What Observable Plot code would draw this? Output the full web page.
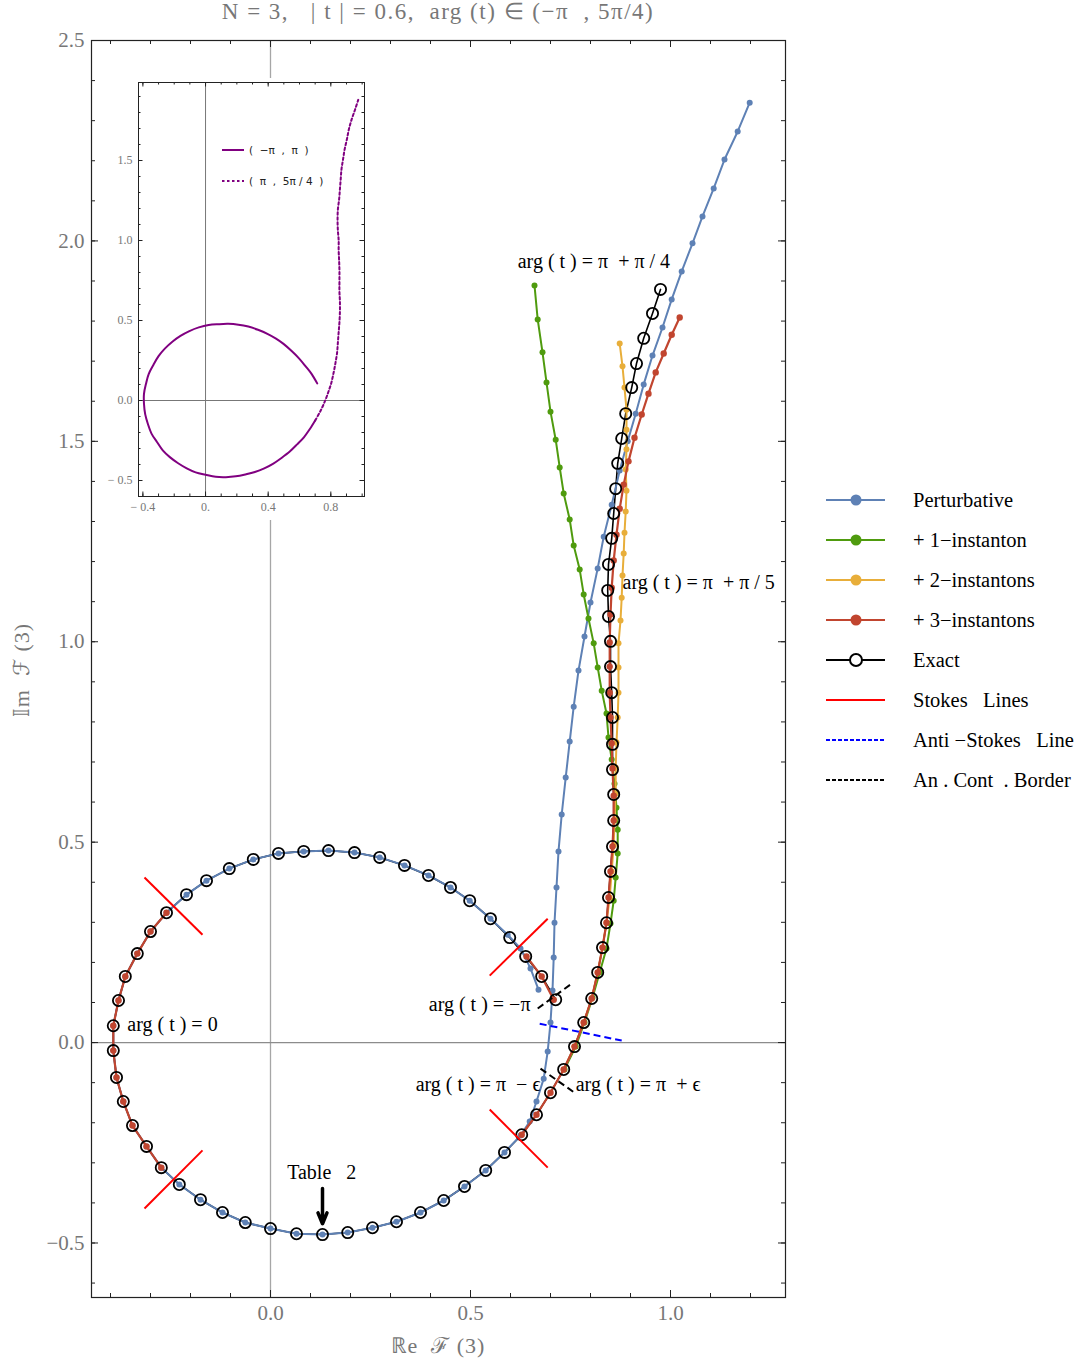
<!DOCTYPE html>
<html><head><meta charset="utf-8">
<script src="https://cdn.jsdelivr.net/npm/d3@7"></script>
<script src="https://cdn.jsdelivr.net/npm/@observablehq/plot@0.6"></script>
<style>
body{margin:0;background:#fff;}
#wrap{position:relative;width:1089px;height:1365px;overflow:hidden;font-family:"Liberation Serif",serif;}
.abs{position:absolute;white-space:pre;}
svg text{white-space:pre;}
</style></head><body><div id="wrap"></div>
<script>
// ---------- DATA ----------
// Exact: loop, arg(t) from -pi to pi-eps
const exactLoop = [[0.713,0.107],[0.678,0.165],[0.638,0.215],[0.598,0.262],[0.550,0.309],[0.498,0.354],[0.450,0.387],[0.395,0.417],[0.335,0.442],[0.273,0.462],[0.210,0.474],[0.145,0.479],[0.083,0.477],[0.020,0.472],[-0.043,0.457],[-0.103,0.434],[-0.160,0.404],[-0.210,0.369],[-0.260,0.324],[-0.300,0.277],[-0.333,0.222],[-0.363,0.165],[-0.380,0.105],[-0.393,0.042],[-0.393,-0.020],[-0.385,-0.087],[-0.368,-0.147],[-0.345,-0.207],[-0.310,-0.259],[-0.273,-0.312],[-0.228,-0.354],[-0.175,-0.392],[-0.120,-0.424],[-0.063,-0.449],[0.000,-0.464],[0.065,-0.477],[0.130,-0.479],[0.193,-0.474],[0.255,-0.462],[0.315,-0.447],[0.375,-0.424],[0.433,-0.394],[0.485,-0.359],[0.538,-0.319],[0.585,-0.274],[0.628,-0.230],[0.665,-0.180],[0.700,-0.125]];
// Exact: branch, arg(t) from pi+eps to 5pi/4
const exactBranch = [[0.733,-0.067],[0.760,-0.010],[0.783,0.050],[0.803,0.110],[0.818,0.175],[0.830,0.237],[0.840,0.299],[0.845,0.362],[0.850,0.427],[0.855,0.489],[0.858,0.554],[0.858,0.619],[0.855,0.681],[0.855,0.744],[0.855,0.811],[0.853,0.873],[0.850,0.938],[0.850,1.001],[0.845,1.063],[0.843,1.128],[0.845,1.193],[0.853,1.258],[0.858,1.320],[0.863,1.382],[0.868,1.445],[0.878,1.507],[0.888,1.569],[0.903,1.634],[0.915,1.694],[0.933,1.757],[0.955,1.819],[0.975,1.879]];
// Perturbative
const pertLoop = [[0.670,0.132],[0.650,0.185],[0.625,0.235],[0.593,0.269],[0.550,0.309],[0.498,0.354],[0.450,0.387],[0.395,0.417],[0.335,0.442],[0.273,0.462],[0.210,0.474],[0.145,0.479],[0.083,0.477],[0.020,0.472],[-0.043,0.457],[-0.103,0.434],[-0.160,0.404],[-0.210,0.369],[-0.260,0.324],[-0.300,0.277],[-0.333,0.222],[-0.363,0.165],[-0.380,0.105],[-0.393,0.042],[-0.393,-0.020],[-0.385,-0.087],[-0.368,-0.147],[-0.345,-0.207],[-0.310,-0.259],[-0.273,-0.312],[-0.228,-0.354],[-0.175,-0.392],[-0.120,-0.424],[-0.063,-0.449],[0.000,-0.464],[0.065,-0.477],[0.130,-0.479],[0.193,-0.474],[0.255,-0.462],[0.315,-0.447],[0.375,-0.424],[0.433,-0.394],[0.485,-0.359],[0.538,-0.319],[0.585,-0.274],[0.625,-0.232],[0.648,-0.197],[0.665,-0.147]];
const pertBranch = [[0.683,-0.090],[0.693,-0.022],[0.700,0.050],[0.705,0.130],[0.708,0.212],[0.710,0.299],[0.715,0.387],[0.720,0.477],[0.728,0.569],[0.738,0.661],[0.748,0.751],[0.758,0.838],[0.770,0.928],[0.785,1.013],[0.800,1.098],[0.818,1.183],[0.833,1.262],[0.853,1.342],[0.873,1.427],[0.893,1.500],[0.913,1.569],[0.933,1.642],[0.955,1.714],[0.980,1.784],[1.003,1.854],[1.028,1.924],[1.055,1.994],[1.080,2.061],[1.108,2.131],[1.135,2.203],[1.168,2.273],[1.198,2.345]];
// + 1-instanton
const inst1 = [[0.735,-0.067],[0.763,-0.010],[0.785,0.050],[0.805,0.112],[0.823,0.175],[0.840,0.235],[0.850,0.297],[0.858,0.354],[0.863,0.412],[0.868,0.472],[0.868,0.531],[0.865,0.586],[0.860,0.646],[0.853,0.706],[0.845,0.761],[0.840,0.821],[0.828,0.878],[0.818,0.936],[0.808,0.996],[0.795,1.058],[0.783,1.118],[0.773,1.180],[0.758,1.240],[0.748,1.305],[0.733,1.370],[0.723,1.435],[0.713,1.504],[0.700,1.574],[0.690,1.647],[0.680,1.722],[0.668,1.804],[0.660,1.889]];
// + 2-instantons
const inst2 = [[0.733,-0.067],[0.760,-0.010],[0.783,0.050],[0.803,0.110],[0.818,0.175],[0.830,0.237],[0.840,0.299],[0.848,0.362],[0.853,0.427],[0.858,0.492],[0.860,0.556],[0.863,0.621],[0.863,0.686],[0.865,0.749],[0.868,0.811],[0.870,0.873],[0.870,0.936],[0.870,0.996],[0.875,1.053],[0.878,1.110],[0.880,1.165],[0.883,1.220],[0.885,1.272],[0.888,1.325],[0.890,1.377],[0.888,1.430],[0.890,1.480],[0.890,1.529],[0.890,1.579],[0.885,1.634],[0.880,1.687],[0.873,1.744]];
// + 3-instantons (three pieces)
const inst3Left = [[-0.260,0.324],[-0.300,0.277],[-0.333,0.222],[-0.363,0.165],[-0.380,0.105],[-0.393,0.042],[-0.393,-0.020],[-0.385,-0.087],[-0.368,-0.147],[-0.345,-0.207],[-0.310,-0.259],[-0.273,-0.312]];
const inst3Top = [[0.640,0.215],[0.678,0.165],[0.708,0.107]];
const inst3Main = [[0.628,-0.230],[0.665,-0.180],[0.700,-0.125],[0.733,-0.067],[0.760,-0.010],[0.783,0.050],[0.803,0.110],[0.818,0.175],[0.830,0.237],[0.840,0.299],[0.845,0.362],[0.850,0.427],[0.855,0.489],[0.858,0.554],[0.858,0.616],[0.855,0.684],[0.853,0.746],[0.850,0.811],[0.848,0.873],[0.848,0.938],[0.848,0.998],[0.850,1.068],[0.853,1.135],[0.858,1.203],[0.865,1.267],[0.873,1.332],[0.883,1.392],[0.895,1.450],[0.910,1.509],[0.928,1.567],[0.945,1.619],[0.963,1.672],[0.983,1.719],[1.003,1.766],[1.023,1.809]];
// Stokes lines, anti-Stokes line, analytic continuation borders: [x1,y1,x2,y2]
const stokesLines = [[-0.315,0.412,-0.170,0.269],[-0.315,-0.414,-0.170,-0.269],[0.548,0.167,0.693,0.309],[0.548,-0.167,0.693,-0.312]];
const antiStokesLine = [[0.673,0.047,0.878,0.005]];
const contBorders = [[0.668,0.085,0.753,0.147],[0.675,-0.065,0.763,-0.127]];
// annotations
const notesStart = [{x:0.618,y:1.949,t:"arg ( t ) = π  + π / 4"},{x:0.880,y:1.148,t:"arg ( t ) = π  + π / 5"},{x:-0.358,y:0.045,t:"arg ( t ) = 0"},{x:0.763,y:-0.105,t:"arg ( t ) = π  + ϵ"}];
const notesEnd = [{x:0.650,y:0.095,t:"arg ( t ) = −π"},{x:0.675,y:-0.105,t:"arg ( t ) = π  − ϵ"}];
const notesMiddle = [{x:0.128,y:-0.324,t:"Table   2"}];
const tableArrow = [{x1:0.130,y1:-0.364,x2:0.130,y2:-0.452}];
// ticks
const xMajor = [0, 0.5, 1];
const yMajor = [-0.5, 0, 0.5, 1, 1.5, 2, 2.5];
const xMinor = d3.range(-4, 13).map(i => i / 10);
const yMinor = d3.range(-6, 26).map(i => i / 10);
// inset ticks
const insetXMajor = [-0.4, 0, 0.4, 0.8];
const insetXLabels = ["− 0.4", "0.", "0.4", "0.8"];
const insetYMajor = [-0.5, 0, 0.5, 1, 1.5];
const insetYLabels = ["− 0.5", "0.0", "0.5", "1.0", "1.5"];
const insetXMinor = d3.range(-4, 11).map(i => i / 10);
const insetYMinor = d3.range(-6, 20).map(i => i / 10);
// legend
const legendLabels = ["Perturbative", "+ 1−instanton", "+ 2−instantons", "+ 3−instantons", "Exact", "Stokes   Lines", "Anti −Stokes   Line", "An . Cont  . Border"];
const insetLegendLabels = ["(  −π  ,  π  )", "(  π  ,  5π / 4  )"];

// ---------- RENDER ----------
const BLUE = "#5e81b5", GREEN = "#4f9b0e", YELLOW = "#e8ae3a", RED = "#c1452f", PURPLE = "#800080";
const W = 1089, H = 1365, mL = 91, mR = 304, mT = 40, mB = 68;
const FW = W - mL - mR, FH = H - mT - mB;
const X = d => d[0], Y = d => d[1];
const exactAll = exactLoop.concat(exactBranch);
const pertAll = pertLoop.concat(pertBranch);
const inst3 = [
  ...inst3Left.map(d => ({x: d[0], y: d[1], g: "a"})),
  ...inst3Top.map(d => ({x: d[0], y: d[1], g: "b"})),
  ...inst3Main.map(d => ({x: d[0], y: d[1], g: "c"}))
];
const linkOpts = {x1: d => d[0], y1: d => d[1], x2: d => d[2], y2: d => d[3]};
const fmt = d3.format(".1f");
const tickCol = "#222";

function frameTicks(xMin, yMin, xMaj, yMaj, fw, fh, lMin, lMaj) {
  return [
    Plot.tickX(xMin, {x: d => d, stroke: tickCol, insetTop: fh - lMin}),
    Plot.tickX(xMin, {x: d => d, stroke: tickCol, insetBottom: fh - lMin}),
    Plot.tickX(xMaj, {x: d => d, stroke: tickCol, insetTop: fh - lMaj}),
    Plot.tickX(xMaj, {x: d => d, stroke: tickCol, insetBottom: fh - lMaj}),
    Plot.tickY(yMin, {y: d => d, stroke: tickCol, insetRight: fw - lMin}),
    Plot.tickY(yMin, {y: d => d, stroke: tickCol, insetLeft: fw - lMin}),
    Plot.tickY(yMaj, {y: d => d, stroke: tickCol, insetRight: fw - lMaj}),
    Plot.tickY(yMaj, {y: d => d, stroke: tickCol, insetLeft: fw - lMaj})
  ];
}

const main = Plot.plot({
  width: W, height: H, marginLeft: mL, marginRight: mR, marginTop: mT, marginBottom: mB,
  x: {domain: [-0.4475, 1.2875]}, y: {domain: [-0.636, 2.5]},
  style: {fontFamily: '"Liberation Serif", serif', fontSize: "20px", background: "transparent", color: "black", overflow: "visible"},
  marks: [
    Plot.ruleX([0], {stroke: "#a6a6a6", strokeWidth: 1.3}),
    Plot.ruleY([0], {stroke: "#8c8c8c", strokeWidth: 1.2}),
    ...frameTicks(xMinor, yMinor, xMajor, yMajor, FW, FH, 4, 7),
    Plot.axisX(xMajor, {tickSize: 0, tickPadding: 8, tickFormat: fmt, label: null, color: "#777", fontSize: 21}),
    Plot.axisY(yMajor, {tickSize: 0, tickPadding: 7, tickFormat: fmt, label: null, color: "#777", fontSize: 21}),
    Plot.line(exactAll, {x: X, y: Y, stroke: "black", strokeWidth: 1.6}),
    Plot.line(pertAll, {x: X, y: Y, stroke: BLUE, strokeWidth: 2}),
    Plot.dot(pertAll, {x: X, y: Y, r: 3, fill: BLUE}),
    Plot.line(inst1, {x: X, y: Y, stroke: GREEN, strokeWidth: 2}),
    Plot.dot(inst1, {x: X, y: Y, r: 3, fill: GREEN}),
    Plot.line(inst2, {x: X, y: Y, stroke: YELLOW, strokeWidth: 2}),
    Plot.dot(inst2, {x: X, y: Y, r: 3, fill: YELLOW}),
    Plot.line(inst3, {x: "x", y: "y", z: "g", stroke: RED, strokeWidth: 2.2}),
    Plot.dot(inst3, {x: "x", y: "y", r: 3.2, fill: RED}),
    Plot.dot(exactAll, {x: X, y: Y, r: 5.6, stroke: "black", strokeWidth: 1.8, fill: "none"}),
    Plot.link(stokesLines, {...linkOpts, stroke: "#ff0000", strokeWidth: 2}),
    Plot.link(antiStokesLine, {...linkOpts, stroke: "#0000ff", strokeWidth: 2, strokeDasharray: "7,4"}),
    Plot.link(contBorders, {...linkOpts, stroke: "black", strokeWidth: 2, strokeDasharray: "7,4"}),
    Plot.text(notesStart, {x: "x", y: "y", text: "t", textAnchor: "start", fontSize: 20, fill: "black"}),
    Plot.text(notesEnd, {x: "x", y: "y", text: "t", textAnchor: "end", fontSize: 20, fill: "black"}),
    Plot.text(notesMiddle, {x: "x", y: "y", text: "t", textAnchor: "middle", fontSize: 20, fill: "black"}),
    Plot.arrow(tableArrow, {x1: "x1", y1: "y1", x2: "x2", y2: "y2", stroke: "black", strokeWidth: 3.5, headLength: 12, headAngle: 45}),
    Plot.frame({stroke: "#222", strokeWidth: 1.2})
  ]
});

// inset
const iW = 268, iH = 442, iL = 38, iT = 4, iR = 4, iB = 24;
const iFW = iW - iL - iR, iFH = iH - iT - iB;
const insetDotted = [exactLoop[exactLoop.length - 1]].concat(exactBranch);
const inset = Plot.plot({
  width: iW, height: iH, marginLeft: iL, marginTop: iT, marginRight: iR, marginBottom: iB,
  x: {domain: [-0.428, 1.015]}, y: {domain: [-0.6, 1.9875]},
  style: {fontFamily: '"Liberation Serif", serif', fontSize: "12px", background: "white", color: "black", overflow: "visible"},
  marks: [
    Plot.ruleX([0], {stroke: "#777", strokeWidth: 1}),
    Plot.ruleY([0], {stroke: "#777", strokeWidth: 1}),
    ...frameTicks(insetXMinor, insetYMinor, insetXMajor, insetYMajor, iFW, iFH, 2.5, 4.5),
    Plot.axisX(insetXMajor, {tickSize: 0, tickPadding: 6, tickFormat: (d, i) => insetXLabels[i], label: null, color: "#777", fontSize: 12}),
    Plot.axisY(insetYMajor, {tickSize: 0, tickPadding: 6, tickFormat: (d, i) => insetYLabels[i], label: null, color: "#777", fontSize: 12}),
    Plot.line(exactLoop, {x: X, y: Y, stroke: PURPLE, strokeWidth: 2, curve: "catmull-rom"}),
    Plot.line(insetDotted, {x: X, y: Y, stroke: PURPLE, strokeWidth: 2, strokeDasharray: "2.5,2.5", curve: "catmull-rom"}),
    Plot.frame({stroke: "#222", strokeWidth: 1})
  ]
});

const wrap = document.getElementById("wrap");
main.style.position = "absolute"; main.style.left = "0px"; main.style.top = "0px";
wrap.appendChild(main);
inset.style.position = "absolute"; inset.style.left = "100px"; inset.style.top = "78px";
wrap.appendChild(inset);

function addDiv(text, css) {
  const d = document.createElement("div");
  d.className = "abs"; d.textContent = text;
  Object.assign(d.style, css);
  wrap.appendChild(d);
  return d;
}
// title
addDiv("N = 3,   | t | = 0.6,  arg (t) ∈ (−π  , 5π/4)", {left: "91px", width: "694px", textAlign: "center", top: "-1px", fontSize: "23px", letterSpacing: "1.5px", lineHeight: "26px", color: "#777"});
// axis labels
addDiv("ℝe  ℱ (3)", {left: "91px", width: "694px", textAlign: "center", top: "1333px", fontSize: "22px", letterSpacing: "1px", lineHeight: "26px", color: "#777"});
addDiv("𝕀m  ℱ (3)", {left: "-78px", width: "200px", textAlign: "center", top: "657px", fontSize: "22px", letterSpacing: "1px", lineHeight: "26px", color: "#777", transform: "rotate(-90deg)"});

// inset legend
const ils = d3.select(wrap).append("svg").attr("width", 130).attr("height", 50)
  .style("position", "absolute").style("left", "218px").style("top", "138px");
insetLegendLabels.forEach((t, i) => {
  const y = 12 + i * 31;
  ils.append("line").attr("x1", 4).attr("x2", 26).attr("y1", y).attr("y2", y)
    .attr("stroke", PURPLE).attr("stroke-width", 2).attr("stroke-dasharray", i ? "2.5,2.5" : null);
  ils.append("text").attr("x", 31).attr("y", y + 4).attr("font-family", '"DejaVu Sans", sans-serif')
    .attr("font-size", 10.5).attr("fill", "#222").text(t);
});

// main legend
const lg = d3.select(wrap).append("svg").attr("width", 274).attr("height", 320)
  .style("position", "absolute").style("left", "815px").style("top", "480px");
const sw = [
  {c: BLUE, m: "dot"}, {c: GREEN, m: "dot"}, {c: YELLOW, m: "dot"}, {c: RED, m: "dot"},
  {c: "black", m: "ring"}, {c: "#ff0000"}, {c: "#0000ff", dash: "4,2"}, {c: "black", dash: "4,2"}
];
legendLabels.forEach((t, i) => {
  const y = 20 + i * 40, s = sw[i];
  lg.append("line").attr("x1", 11).attr("x2", 70).attr("y1", y).attr("y2", y)
    .attr("stroke", s.c).attr("stroke-width", 2).attr("stroke-dasharray", s.dash || null);
  if (s.m === "dot") lg.append("circle").attr("cx", 41).attr("cy", y).attr("r", 5.5).attr("fill", s.c);
  if (s.m === "ring") lg.append("circle").attr("cx", 41).attr("cy", y).attr("r", 6).attr("fill", "white").attr("stroke", "black").attr("stroke-width", 2);
  lg.append("text").attr("x", 98).attr("y", y + 7).attr("font-family", '"Liberation Serif", serif')
    .attr("font-size", 20.5).attr("fill", "black").text(t);
});
</script>
</body></html>
